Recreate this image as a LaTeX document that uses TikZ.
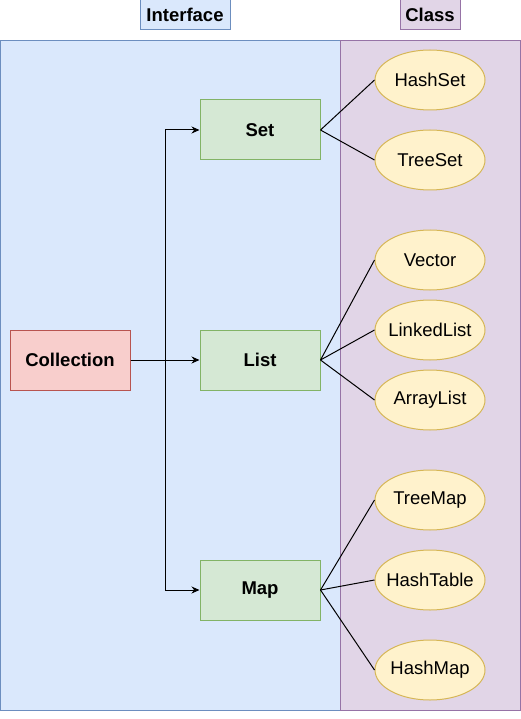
\documentclass[tikz,border=0pt]{standalone}
\usepackage{fontspec}
\setmainfont{Liberation Sans}
\usetikzlibrary{arrows.meta,positioning,shapes.geometric}
\definecolor{ifill}{HTML}{DAE8FC}
\definecolor{iline}{HTML}{6C8EBF}
\definecolor{cfill}{HTML}{E1D5E7}
\definecolor{cline}{HTML}{9673A6}
\definecolor{rfill}{HTML}{F8CECC}
\definecolor{rline}{HTML}{B85450}
\definecolor{gfill}{HTML}{D5E8D4}
\definecolor{gline}{HTML}{82B366}
\definecolor{yfill}{HTML}{FFF2CC}
\definecolor{yline}{HTML}{D6B656}
\tikzset{
  panel/.style={draw, line width=1pt, minimum height=670pt, anchor=north west, inner sep=0pt},
  tag/.style={draw, line width=1pt, font=\fontsize{18.5}{21}\selectfont\bfseries,
              minimum height=30pt, inner sep=4pt},
  box/.style={draw, line width=1pt, minimum width=120pt, minimum height=60pt,
              font=\fontsize{18.5}{21}\selectfont\bfseries},
  impl/.style={draw=yline, fill=yfill, line width=1pt, ellipse, minimum width=110pt,
               minimum height=60pt, inner xsep=-14pt, inner ysep=0pt,
               font=\fontsize{18.5}{21}\selectfont},
  sig/.style={-{Stealth[length=8pt,width=7pt]}, line width=1pt},
  lnk/.style={line width=1pt},
}
\begin{document}
\begin{tikzpicture}[x=1pt,y=-1pt]
    \useasboundingbox (0,0) rectangle (521,719);
    % panels and their titles
    \node[panel, fill=ifill, draw=iline, minimum width=340pt] (ipan) at (0,40) {};
    \node[panel, fill=cfill, draw=cline, minimum width=180pt] (cpan) at (340,40) {};
    \node[tag, fill=ifill, draw=iline, minimum width=90pt] (itag) at (185,15) {Interface};
    \node[tag, fill=cfill, draw=cline, minimum width=60pt] (ctag) at (430,15) {Class};
    % interfaces
    \node[box, fill=rfill, draw=rline] (coll) at (70,360) {Collection};
    \node[box, fill=gfill, draw=gline] (set) at (260,130) {Set};
    \node[box, fill=gfill, draw=gline] (list) at (260,360) {List};
    \node[box, fill=gfill, draw=gline] (map) at (260,590) {Map};
    % classes
    \node[impl] (hset) at (430,80) {HashSet};
    \node[impl] (tset) at (430,160) {TreeSet};
    \node[impl] (vec) at (430,260) {Vector};
    \node[impl] (llist) at (430,330) {LinkedList};
    \node[impl] (alist) at (430,400) {ArrayList};
    \node[impl] (tmap) at (430,500) {TreeMap};
    \node[impl] (htab) at (430,580) {HashTable};
    \node[impl] (hmap) at (430,670) {HashMap};
    % connectors
    \draw[sig] (coll.east) -- ++(35,0) |- (set.west);
    \draw[sig] (coll.east) -- (list.west);
    \draw[sig] (coll.east) -- ++(35,0) |- (map.west);
    \foreach \c in {hset,tset} \draw[lnk] (set.east) -- (\c.west);
    \foreach \c in {vec,llist,alist} \draw[lnk] (list.east) -- (\c.west);
    \foreach \c in {tmap,htab,hmap} \draw[lnk] (map.east) -- (\c.west);
\end{tikzpicture}
\end{document}
